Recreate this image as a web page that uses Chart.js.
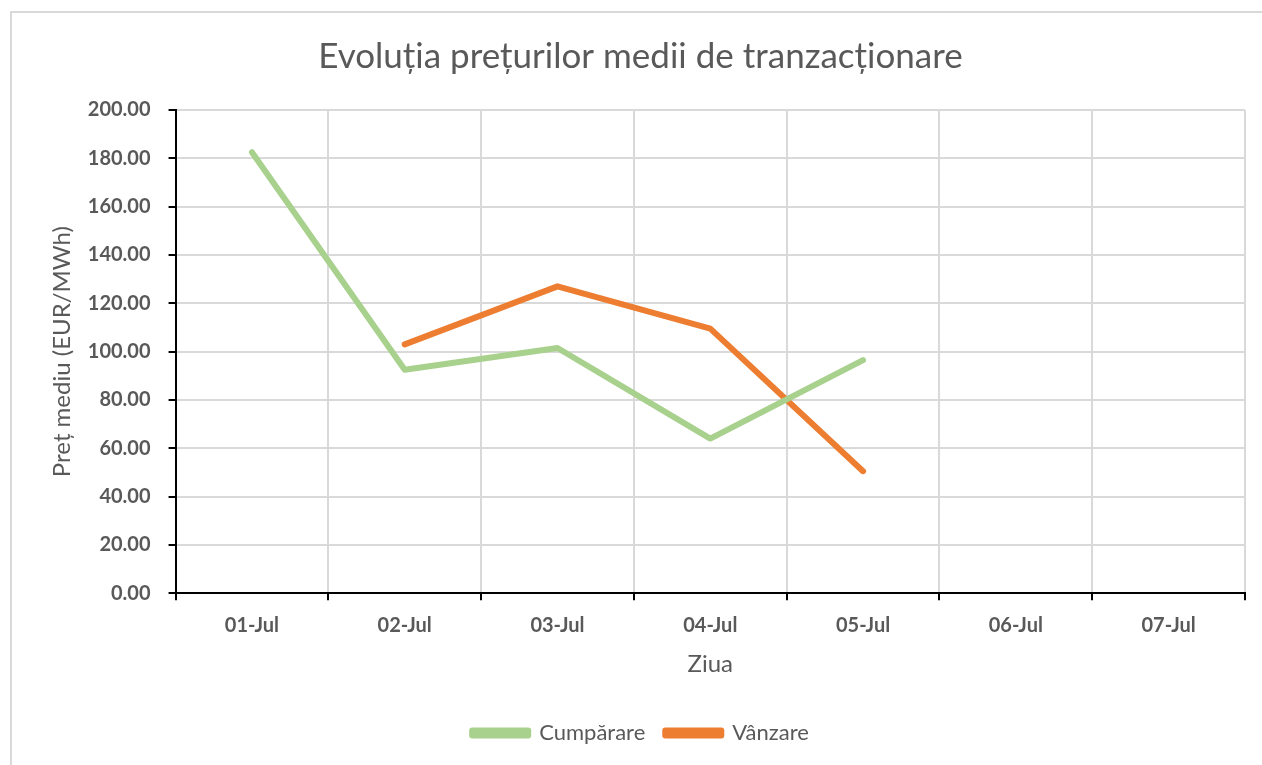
<!DOCTYPE html>
<html>
<head>
<meta charset="utf-8">
<script src="https://cdn.jsdelivr.net/npm/chart.js@4"></script>
<style>
  html, body { margin: 0; padding: 0; background: #fff; }
  #frame { position: absolute; left: 10px; top: 11px; right: 0; bottom: 0; border-left: 2px solid #d9d9d9; border-top: 2px solid #d9d9d9; }
  #wrap { position: absolute; left: 0; top: 0; width: 1262px; height: 765px; }
</style>
</head>
<body>
<div id="frame"></div>
<div id="wrap"><canvas id="myChart" width="1262" height="765"></canvas></div>
<script>
const days = ['01-Jul', '02-Jul', '03-Jul', '04-Jul', '05-Jul', '06-Jul', '07-Jul'];
const cumparare = [182.5, 92.5, 101.5, 64, 96.5, null, null];
const vanzare = [null, 103, 127, 109.5, 50.5, null, null];
const yTicks = [0, 20, 40, 60, 80, 100, 120, 140, 160, 180, 200];

const grey = '#595959';
const font = 'Lato, "Open Sans", sans-serif';

var ctx = document.getElementById('myChart').getContext('2d');
var chart = new Chart(ctx, {
    type: 'line',
    data: {
        labels: days,
        datasets: [
            {
                label: 'Cumpărare',
                data: cumparare,
                borderColor: '#a9d18e',
                backgroundColor: '#a9d18e',
                borderWidth: 6,
                borderCapStyle: 'round',
                borderJoinStyle: 'round',
                pointRadius: 0,
                tension: 0
            },
            {
                label: 'Vânzare',
                data: vanzare,
                borderColor: '#ed7d31',
                backgroundColor: '#ed7d31',
                borderWidth: 6,
                borderCapStyle: 'round',
                borderJoinStyle: 'round',
                pointRadius: 0,
                tension: 0
            }
        ]
    },
    options: {
        responsive: false,
        animation: false,
        layout: { padding: { left: 36, right: 17, top: 16, bottom: 11 } },
        plugins: {
            title: {
                display: true,
                text: 'Evoluția prețurilor medii de tranzacționare',
                color: grey,
                font: { family: font, size: 35, weight: 'normal' },
                padding: { top: 20, bottom: 32 }
            },
            legend: {
                position: 'bottom',
                labels: {
                    color: grey,
                    font: { family: font, size: 22 },
                    boxWidth: 56,
                    boxHeight: 5,
                    padding: 20
                }
            },
            tooltip: { enabled: false }
        },
        scales: {
            x: {
                offset: true,
                grid: { offset: true, color: '#d9d9d9', lineWidth: 2, tickLength: 7, tickColor: '#000', tickWidth: 2 },
                border: { color: '#000', width: 2 },
                ticks: { color: grey, font: { family: font, size: 20, weight: 'bold' }, padding: 13, maxRotation: 0 },
                title: { display: true, text: 'Ziua', color: grey, font: { family: font, size: 24 }, padding: { top: 0, bottom: 23 } }
            },
            y: {
                min: 0,
                max: 200,
                afterBuildTicks: function (axis) {
                    axis.ticks = yTicks.map(function (v) { return { value: v }; });
                },
                grid: { color: '#d9d9d9', lineWidth: 2, tickLength: 7, tickColor: '#000', tickWidth: 2 },
                border: { color: '#000', width: 2 },
                ticks: {
                    color: grey,
                    font: { family: font, size: 20, weight: 'bold' },
                    padding: 18,
                    callback: function (v) { return Number(v).toFixed(2); }
                },
                title: { display: true, text: 'Preț mediu (EUR/MWh)', color: grey, font: { family: font, size: 24 }, padding: { top: 12, bottom: -7 } }
            }
        }
    }
});
</script>
</body>
</html>
